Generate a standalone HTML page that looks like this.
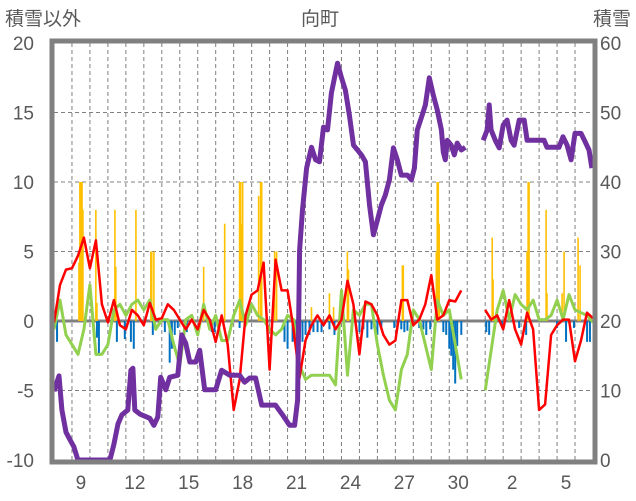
<!DOCTYPE html>
<html><head><meta charset="utf-8"><style>
html,body{margin:0;padding:0;background:#fff;}
svg{display:block;font-family:"Liberation Sans","Noto Sans CJK JP",sans-serif;}
</style></head><body>
<svg id="chart" width="636" height="501" viewBox="0 0 636 501">
<text x="5" y="25" font-size="19" fill="#595959">積雪以外</text>
<text x="320" y="25" font-size="19" fill="#595959" text-anchor="middle">向町</text>
<text x="631" y="25" font-size="19" fill="#595959" text-anchor="end">積雪</text>
<g id="grid"></g><g id="bars"></g><g id="lines"></g><g id="axes"></g>
</svg>
<script>
const leftTicks=[-10,-5,0,5,10,15,20];
const rightTicks=[0,10,20,30,40,50,60];
const dayLabels=[8,9,10,11,12,13,14,15,16,17,18,19,20,21,22,23,24,25,26,27,28,29,30,31,1,2,3,4,5,6];
const shownLabels=[9,12,15,18,21,24,27,30,2,5];
const sampleStep=1/3;
const redVals=[-0.1,2.6,3.7,3.8,4.7,6.0,3.8,5.8,1.2,-0.1,1.5,-0.3,-0.6,0.8,0.4,-0.3,1.3,0.1,0.2,1.2,0.8,0.1,-0.6,0.1,-0.6,0.8,0.1,-1.5,0.4,-1.7,-6.4,-4.2,0.4,1.9,2.2,4.2,-3.5,4.4,2.2,2.2,-0.6,-4.1,-1.4,-0.3,0.4,-0.3,0.4,-0.6,0.1,2.9,1.2,-2.4,1.4,1.2,0.4,-1.0,-1.7,-1.4,1.5,1.5,-0.3,0.1,1.2,3.3,0.1,0.4,1.5,1.4,2.2,null,null,null,0.8,0.1,0.4,-0.6,1.5,-0.6,-1.7,0.6,-0.6,-6.4,-6.0,-1.0,-0.3,0.1,0.1,-2.9,-1.4,0.6,0.2];
const greenVals=[-0.6,1.5,-1.0,-1.7,-2.4,-0.6,2.6,-2.4,-2.4,-1.7,0.8,1.2,0.4,1.2,1.5,0.8,1.5,-0.6,0.1,0.1,-1.7,-3.2,0.1,0.4,-1.0,1.2,-0.6,0.4,-1.4,-1.4,0.4,1.5,-0.3,1.2,0.4,0.1,-0.6,-1.0,-0.6,0.4,0.1,-3.2,-4.2,-3.9,-3.9,-3.9,-3.9,-4.6,2.2,-3.9,0.8,0.4,1.2,1.2,-1.7,-3.9,-5.7,-6.4,-3.5,-2.4,0.8,0.1,-1.7,-3.5,1.5,0.4,0.8,-1.7,-4.2,null,null,null,-5.0,-2.1,0.8,2.2,0.1,1.9,1.2,0.8,1.5,0.1,0.1,0.4,1.5,0.1,1.9,0.8,0.6,0.4,-0.1];
const snowDay=[0,0.28,0.44,0.67,0.89,1.11,1.33,3.11,3.33,3.56,3.78,4.11,4.28,4.39,4.5,4.78,5.33,5.56,5.78,5.94,6.22,6.44,6.89,7.11,7.33,7.56,7.89,8.11,8.39,9.0,9.33,9.78,10.33,10.61,10.89,11.22,11.56,12.33,12.72,13.11,13.39,13.56,13.67,13.83,14.06,14.33,14.56,14.78,15.0,15.22,15.44,15.67,15.78,16.0,16.22,16.44,16.67,16.89,17.11,17.33,17.56,17.78,18.0,18.22,18.44,18.67,18.89,19.11,19.33,19.67,19.89,20.06,20.22,20.44,20.67,20.89,21.11,21.33,21.56,21.67,21.78,21.89,22.11,22.28,22.44,22.67,22.89,23.4,23.89,24.11,24.22,24.33,24.56,24.78,25.0,25.22,25.44,25.61,25.89,26.17,26.33,27.28,27.44,28.11,28.33,28.56,28.78,29.0,29.33,29.56,29.78,29.94];
const snowDepth=[9.9,12.1,7.2,4.0,2.9,1.9,0,0,2.2,5.2,6.5,7.2,12.9,13.2,7.2,6.6,6.0,5.0,6.2,11.9,10.1,11.9,12.2,18.0,16.8,14.1,14.1,15.8,10.1,10.1,12.9,12.2,12.2,11.2,11.8,11.8,7.9,7.9,6.5,5.0,5.0,8.6,30.2,36.0,42.0,45.0,43.2,42.9,47.9,47.5,52.8,55.7,57.1,55.0,53.2,49.6,45.3,44.6,43.9,42.9,36.7,32.4,34.5,36.7,38.1,40.3,44.9,43.2,41.0,41.0,40.3,42.0,47.5,49.2,51.1,55.0,52.5,50.4,47.5,44.3,43.2,46.0,45.3,43.9,45.6,44.6,45.0,null,46.0,47.5,51.1,47.5,46.0,44.9,48.2,48.9,46.0,45.3,48.9,48.9,46.0,46.0,45.0,45.0,46.5,45.3,43.2,47.0,47.0,45.8,44.6,42.0];
const fallDay=[1.39,1.44,1.5,1.56,1.61,2.33,2.39,3.39,3.44,4.56,5.39,5.44,5.56,8.33,9.5,10.33,10.39,10.44,10.5,11.39,11.5,11.56,12.28,12.39,14.33,15.33,15.56,16.33,16.39,19.39,19.44,21.28,21.33,21.39,21.44,24.39,24.44,26.33,26.39,26.44,27.39,27.44,28.28,28.39,29.17,29.28];
const fallVals=[4.2,10,10,10,8,8,1.3,8,3.9,8,5,5,5,3.9,7,10,10,7,10,9,10,10,5,5,1,2,1,5,3.7,4,4,5,10,10,7,6,3,5,10,10,8,2,2,5,6,4];
const meltDay=[0.17,2.39,2.5,3.5,3.94,4.28,4.44,5.5,6.17,6.44,6.56,6.72,6.89,7.39,8.78,8.94,10.33,12.83,13,13.28,13.44,13.67,13.83,14,14.22,14.44,14.67,14.89,15.33,15.61,15.89,17,17.22,17.44,17.67,17.83,18,18.22,18.94,19.11,19.33,19.5,19.67,19.89,20.33,20.56,20.72,20.94,21.67,21.83,22,22.11,22.22,22.33,22.44,22.67,24.06,24.22,24.94,25.89,26.28,28,28.5,28.94,29.67,29.83];
const meltVals=[-1.5,-1.2,-2.5,-1.5,-1.3,-1.5,-2,-1,-0.8,-3,-2,-1,-0.5,-0.8,-0.8,-0.8,-0.5,-1.5,-2,-1.5,-1.3,-1,-1.5,-1,-1,-0.8,-0.8,-0.8,-0.6,-1,-0.6,-0.8,-0.6,-1.2,-0.6,-0.5,-1,-0.6,-0.5,-0.6,-0.6,-0.8,-0.7,-0.6,-0.5,-0.6,-1,-0.6,-0.8,-1,-2,-2.5,-3.5,-4.5,-1.8,-1,-0.8,-1,-0.5,-0.5,-1,-0.5,-1.5,-0.5,-1.5,-1.5];

const NS='http://www.w3.org/2000/svg';
const X0=54,X1=593,Y0=43,Y1=460,DAYS=30;
const xS=t=>X0+t*(X1-X0)/DAYS;
const yL=v=>Y1-(v+10)*(Y1-Y0)/30;
const yR=v=>Y1-v*(Y1-Y0)/60;
function mk(tag,attrs,parent){const e=document.createElementNS(NS,tag);for(const k in attrs)e.setAttribute(k,attrs[k]);parent.appendChild(e);return e;}
const grid=document.getElementById('grid'),bars=document.getElementById('bars'),lines=document.getElementById('lines'),axes=document.getElementById('axes');

leftTicks.forEach(v=>{
  if(v!==0&&v!==20&&v!==-10){const l=mk('line',{x1:X0,x2:X1,y1:yL(v),y2:yL(v),stroke:'#808080','stroke-width':1,'stroke-dasharray':'4,3'},grid);
  
  }
  const t=mk('text',{x:34,y:yL(v)+7,'font-size':19,fill:'#595959','text-anchor':'end'},axes);t.textContent=v;
  
  
});
rightTicks.forEach(v=>{
  const t=mk('text',{x:600,y:yR(v)+7,'font-size':19,fill:'#595959'},axes);t.textContent=v;
  
  
});
dayLabels.forEach((d,i)=>{
  if(i>0){const l=mk('line',{x1:xS(i),x2:xS(i),y1:Y0,y2:Y1,stroke:'#808080','stroke-width':1,'stroke-dasharray':'4,3'},grid);
  
  }
  if(shownLabels.includes(d)&&!(d===2&&i<24)&&!(d===5&&i<24)){
    const t=mk('text',{x:xS(i+0.5),y:489,'font-size':19,fill:'#595959','text-anchor':'middle'},axes);t.textContent=d;
    
    
  }
});
const zl=mk('line',{x1:X0,x2:X1,y1:yL(0),y2:yL(0),stroke:'#808080','stroke-width':3},grid);



fallDay.forEach((t,i)=>{const y=yL(fallVals[i]);const r=mk('rect',{x:xS(t)-0.8,y:y,width:1.6,height:yL(0)-y,fill:'#FFC000'},bars);
  
  });
meltDay.forEach((t,i)=>{const y=yL(meltVals[i]);const r=mk('rect',{x:xS(t)-1,y:yL(0),width:2,height:y-yL(0),fill:'#0070C0'},bars);
  
  });

function pathFrom(ts,vs,ys){let d='',pen=false;vs.forEach((v,i)=>{if(v===null){pen=false;return;}d+=(pen?'L':'M')+xS(ts(i)).toFixed(1)+','+ys(v).toFixed(1);pen=true;});return d;}
const g=mk('path',{d:pathFrom(i=>i*sampleStep,greenVals,yL),fill:'none',stroke:'#92D050','stroke-width':3,'stroke-linejoin':'round'},lines);


const r=mk('path',{d:pathFrom(i=>i*sampleStep,redVals,yL),fill:'none',stroke:'#FF0000','stroke-width':2.5,'stroke-linejoin':'round'},lines);


const p=mk('path',{d:pathFrom(i=>snowDay[i],snowDepth,yR),fill:'none',stroke:'#7030A0','stroke-width':5,'stroke-linejoin':'round'},lines);



const b=mk('rect',{x:X0-2,y:Y0-2,width:X1-X0+4,height:Y1-Y0+4,fill:'none',stroke:'#808080','stroke-width':5},axes);


</script>
</body></html>
